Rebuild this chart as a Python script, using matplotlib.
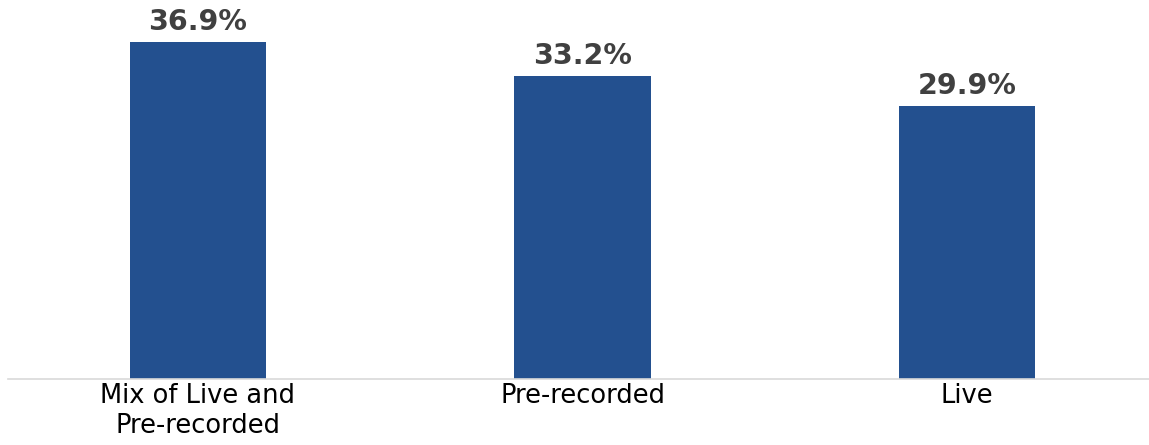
import numpy as np
import matplotlib.pyplot as plt

categories = ["Mix of Live and\nPre-recorded", "Pre-recorded", "Live"]
values = [36.9, 33.2, 29.9]
labels = ["36.9%", "33.2%", "29.9%"]

bar_color = "#23508F"
text_color = "#404040"

fig = plt.figure(figsize=(11.49, 4.45), dpi=100)
ax = fig.add_axes([8 / 1149, 66 / 445, 1141 / 1149, 379 / 445])

x = np.arange(len(categories))
bars = ax.bar(x, values, width=0.354, color=bar_color, zorder=2)

for xi, v, lab in zip(x, values, labels):
    ax.annotate(lab, (xi, v), xytext=(0, 4), textcoords="offset points",
                ha="center", va="bottom", fontsize=20.5, fontweight="bold",
                color=text_color)

ax.set_xlim(-0.494, 2.473)
ax.set_ylim(0, 41.5)
ax.set_xticks(x)
ax.set_xticklabels(categories, fontsize=18.5, color="black", linespacing=1.2)
ax.tick_params(axis="x", length=0, pad=3)
ax.set_yticks([])

for s in ["top", "right", "left"]:
    ax.spines[s].set_visible(False)
ax.spines["bottom"].set_color("#D9D9D9")
ax.spines["bottom"].set_linewidth(1.2)

fig.savefig("out.png", dpi=100)
plt.close()
